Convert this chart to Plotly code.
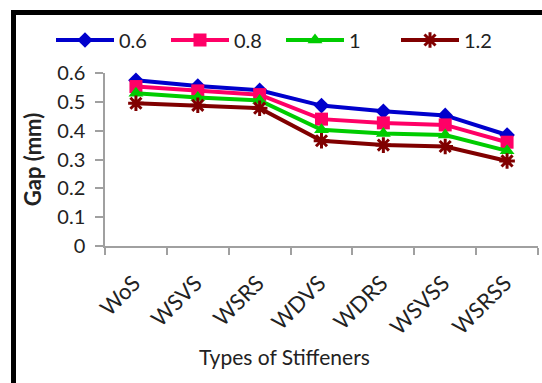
import plotly.graph_objects as go

categories = ["WoS", "WSVS", "WSRS", "WDVS", "WDRS", "WSVSS", "WSRSS"]
series_names = ["0.6", "0.8", "1", "1.2"]
gap_06 = [0.575, 0.555, 0.540, 0.487, 0.467, 0.453, 0.385]
gap_08 = [0.553, 0.538, 0.525, 0.440, 0.427, 0.420, 0.360]
gap_10 = [0.530, 0.515, 0.505, 0.403, 0.390, 0.385, 0.330]
gap_12 = [0.495, 0.488, 0.478, 0.365, 0.350, 0.345, 0.295]
y_ticks = [0, 0.1, 0.2, 0.3, 0.4, 0.5, 0.6]
y_ticktext = ["0", "0.1", "0.2", "0.3", "0.4", "0.5", "0.6"]

colors = ["#0000CC", "#FF0066", "#00CC00", "#800000"]
symbols = ["diamond", "square", "triangle-up", "asterisk"]
sizes = [12, 13, 13, 13]
values = [gap_06, gap_08, gap_10, gap_12]

FONT = "Lato, Liberation Sans, sans-serif"

fig = go.Figure()
for name, vals, c, s, sz in zip(series_names, values, colors, symbols, sizes):
    marker = dict(symbol=s, size=sz, color=c)
    if s == "asterisk":
        marker["line"] = dict(color=c, width=3)
    fig.add_trace(go.Scatter(
        x=categories, y=vals, name=name, mode="lines+markers",
        line=dict(color=c, width=4), marker=marker, cliponaxis=False,
    ))

W, H = 542, 383
L, R, T, B = 105, 4, 73, 137
pw, ph = W - L - R, H - T - B

def px_x(x):
    return (x - L) / pw

def px_y(y):
    return (H - B - y) / ph

fig.update_layout(
    width=W, height=H,
    margin=dict(l=L, r=R, t=T, b=B, pad=0),
    paper_bgcolor="white", plot_bgcolor="white",
    font=dict(family=FONT, size=20, color="#222222"),
    showlegend=True,
    legend=dict(
        orientation="h", x=px_x(51), xanchor="left", y=px_y(40), yanchor="middle",
        font=dict(size=20), itemwidth=58, entrywidth=42, entrywidthmode="pixels",
        bgcolor="rgba(0,0,0,0)", tracegroupgap=0,
    ),
    xaxis=dict(
        type="category", range=[-0.5, 6.5], tickson="boundaries",
        showline=True, linecolor="#A0A0A0", linewidth=1.5,
        ticks="outside", ticklen=7, tickcolor="#A0A0A0", tickwidth=1.5,
        tickangle=-45, showgrid=False, zeroline=False,
        tickfont=dict(size=22), ticklabelstandoff=14, ticklabelshift=-2,
    ),
    yaxis=dict(
        range=[0, 0.6], tickvals=y_ticks, ticktext=y_ticktext,
        showline=True, linecolor="#A0A0A0", linewidth=1.5,
        ticks="outside", ticklen=8, tickcolor="#A0A0A0", tickwidth=1.5,
        showgrid=False, zeroline=False, ticklabelstandoff=6,
        tickfont=dict(size=20),
        title=dict(text="<b>Gap (mm)</b>", font=dict(size=22), standoff=10),
    ),
    annotations=[
        dict(text="Types of Stiffeners", xref="paper", yref="paper",
             x=px_x(284), y=px_y(356), xanchor="center", yanchor="middle",
             showarrow=False, font=dict(size=21, color="#222222")),
    ],
    shapes=[
        dict(type="line", xref="paper", yref="paper",
             x0=px_x(13.5), x1=px_x(13.5), y0=px_y(10), y1=px_y(400),
             line=dict(color="black", width=5)),
        dict(type="line", xref="paper", yref="paper",
             x0=px_x(11), x1=px_x(560), y0=px_y(12.5), y1=px_y(12.5),
             line=dict(color="black", width=5)),
    ],
)

fig.write_html("out.html")
